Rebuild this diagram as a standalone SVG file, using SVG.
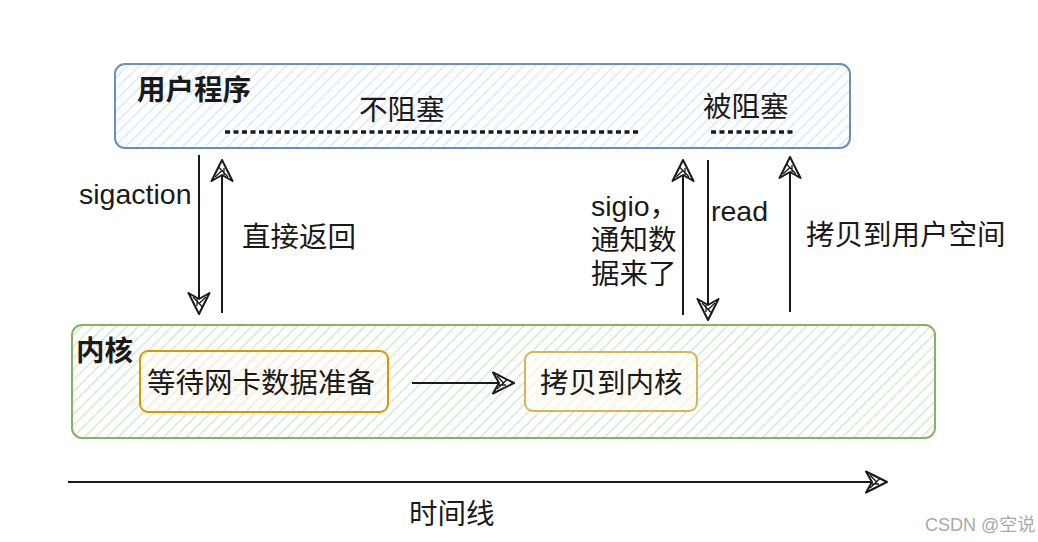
<svg xmlns="http://www.w3.org/2000/svg" width="1038" height="542" viewBox="0 0 1038 542">
<style>
.t{font-family:"Liberation Sans","Noto Sans CJK SC",sans-serif;fill:#1a1a1a}
.b{font-weight:bold;font-size:28.5px}
.m{font-size:28.5px}
.ln{stroke:#1a1a1a;stroke-width:2;fill:none}
.dash{stroke:#1a1a1a;stroke-width:3.5;stroke-dasharray:5 3.5;fill:none}
</style>
<defs>
<pattern id="hb" width="8" height="8" patternUnits="userSpaceOnUse" patternTransform="rotate(45)"><rect width="8" height="8" fill="#fff"/><line x1="0" y1="0" x2="0" y2="8" stroke="#dae8fc" stroke-width="3"/></pattern>
<pattern id="hg" width="8" height="8" patternUnits="userSpaceOnUse" patternTransform="rotate(45)"><rect width="8" height="8" fill="#fff"/><line x1="0" y1="0" x2="0" y2="8" stroke="#d5e8d4" stroke-width="3"/></pattern>
<pattern id="ho" width="8" height="8" patternUnits="userSpaceOnUse" patternTransform="rotate(45)"><rect width="8" height="8" fill="#fff"/><line x1="0" y1="0" x2="0" y2="8" stroke="#ffe6cc" stroke-width="3"/></pattern>
<pattern id="hy" width="8" height="8" patternUnits="userSpaceOnUse" patternTransform="rotate(45)"><rect width="8" height="8" fill="#fff"/><line x1="0" y1="0" x2="0" y2="8" stroke="#fff2cc" stroke-width="3"/></pattern>
<marker id="ah" viewBox="0 0 24 24" refX="22" refY="12" markerWidth="24" markerHeight="24" markerUnits="userSpaceOnUse" orient="auto">
<path d="M1,1.5 L22,12 L1,22.5 L7,12 Z" fill="#fff" stroke="#1a1a1a" stroke-width="2" stroke-linejoin="round"/>
<path d="M5,5 L12,12.5 M5,18 L15,8.5 M7,14 L14,14" stroke="#1a1a1a" stroke-width="1.3"/>
</marker>
</defs>
<rect width="1038" height="542" fill="#fff"/>
<g id="user">
<rect x="115" y="64" width="735" height="84" rx="10" fill="url(#hb)" stroke="#6c8ebf" stroke-width="2"/>
<text class="t b" x="137" y="100">用户程序</text>
<text class="t m" x="359" y="120">不阻塞</text>
<text class="t m" x="703" y="117">被阻塞</text>
<line class="dash" x1="225" y1="132" x2="640" y2="132"/>
<line class="dash" x1="711" y1="132" x2="793" y2="132"/>
</g>
<g id="kernel">
<rect x="72" y="325" width="863" height="113" rx="10" fill="url(#hg)" stroke="#82b366" stroke-width="2"/>
<text class="t b" x="76" y="361">内核</text>
</g>
<g id="wait">
<rect x="140" y="351" width="248" height="61" rx="8" fill="url(#ho)" stroke="#d79b00" stroke-width="2"/>
<text class="t m" x="147" y="393">等待网卡数据准备</text>
</g>
<g id="copyk">
<rect x="525" y="352" width="172" height="59" rx="8" fill="url(#hy)" stroke="#d6b656" stroke-width="2"/>
<text class="t m" x="540" y="393">拷贝到内核</text>
</g>
<g id="connectors">
<line class="ln" x1="412" y1="383" x2="514" y2="383" marker-end="url(#ah)"/>
<line class="ln" x1="199" y1="155" x2="199" y2="314" marker-end="url(#ah)"/>
<line class="ln" x1="222" y1="313" x2="222" y2="160" marker-end="url(#ah)"/>
<line class="ln" x1="683" y1="315" x2="683" y2="160" marker-end="url(#ah)"/>
<line class="ln" x1="708" y1="160" x2="708" y2="320" marker-end="url(#ah)"/>
<line class="ln" x1="790" y1="312" x2="790" y2="157" marker-end="url(#ah)"/>
<line class="ln" x1="68" y1="482" x2="887" y2="482" marker-end="url(#ah)"/>
</g>
<g id="labels">
<text class="t m" x="79" y="204">sigaction</text>
<text class="t m" x="242" y="247">直接返回</text>
<text class="t m" x="591" y="216">sigio，</text>
<text class="t m" x="591" y="250">通知数</text>
<text class="t m" x="591" y="284">据来了</text>
<text class="t m" x="711" y="221">read</text>
<text class="t m" x="806" y="245">拷贝到用户空间</text>
<text class="t m" x="409" y="524">时间线</text>
<text x="925" y="531" style="font-family:'Liberation Sans','Noto Sans CJK SC',sans-serif;font-size:18px;fill:#aaaaaa">CSDN @空说</text>
</g>
</svg>
